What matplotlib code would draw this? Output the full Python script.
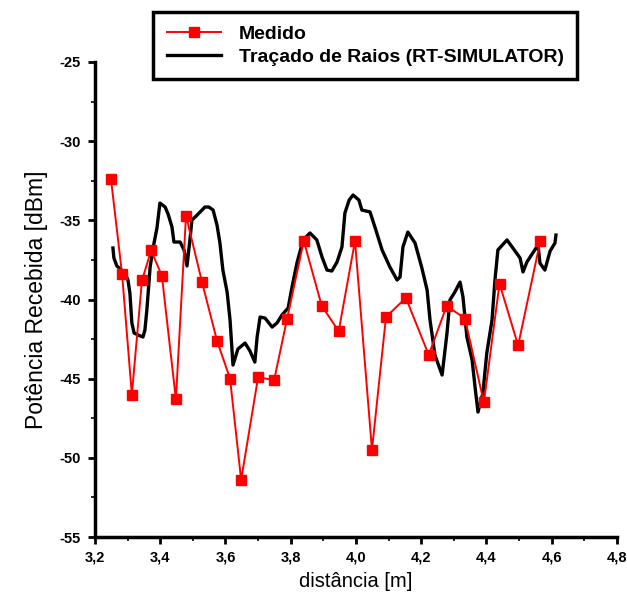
import matplotlib
matplotlib.use("Agg")
import matplotlib.pyplot as plt
from matplotlib.ticker import MultipleLocator, FuncFormatter

# measured points (red squares)
med_x = [3.249, 3.283, 3.313, 3.344, 3.372, 3.405, 3.448, 3.479, 3.528, 3.574,
         3.614, 3.648, 3.700, 3.749, 3.789, 3.840, 3.895, 3.947, 3.997, 4.049,
         4.092, 4.153, 4.223, 4.278, 4.334, 4.392, 4.440, 4.497, 4.565]
med_y = [-32.4, -38.4, -46.0, -38.8, -36.9, -38.5, -46.3, -34.7, -38.9, -42.6,
         -45.0, -51.4, -44.9, -45.1, -41.2, -36.3, -40.4, -42.0, -36.3, -49.5,
         -41.1, -39.9, -43.5, -40.4, -41.2, -46.5, -39.0, -42.9, -36.3]

# ray tracing simulation (black curve)
rt_x = [3.255, 3.258, 3.267, 3.292, 3.301, 3.307, 3.313, 3.320, 3.332, 3.347,
        3.353, 3.359, 3.369, 3.378, 3.390, 3.399, 3.415, 3.424, 3.436, 3.442,
        3.461, 3.473, 3.482, 3.491, 3.497, 3.510, 3.537, 3.549, 3.562, 3.574,
        3.583, 3.592, 3.605, 3.614, 3.623, 3.638, 3.660, 3.675, 3.690, 3.697,
        3.706, 3.721, 3.743, 3.758, 3.773, 3.792, 3.804, 3.819, 3.838, 3.859,
        3.880, 3.896, 3.911, 3.926, 3.942, 3.957, 3.966, 3.979, 3.991, 4.009,
        4.018, 4.043, 4.058, 4.080, 4.104, 4.126, 4.135, 4.144, 4.159, 4.181,
        4.202, 4.218, 4.227, 4.242, 4.264, 4.279, 4.288, 4.303, 4.319, 4.328,
        4.340, 4.356, 4.365, 4.374, 4.389, 4.401, 4.417, 4.426, 4.435, 4.463,
        4.481, 4.503, 4.512, 4.524, 4.542, 4.558, 4.564, 4.579, 4.595, 4.610,
        4.613]
rt_y = [-36.75, -37.38, -37.88, -38.33, -38.77, -39.59, -41.48, -42.12, -42.24, -42.37,
        -41.93, -40.66, -37.95, -36.75, -35.48, -33.91, -34.16, -34.60, -35.42, -36.37,
        -36.37, -36.87, -37.88, -36.24, -34.98, -34.73, -34.16, -34.16, -34.35, -35.30,
        -36.43, -38.14, -39.53, -41.30, -44.14, -43.13, -42.75, -43.25, -43.95, -42.37,
        -41.11, -41.17, -41.74, -41.48, -40.98, -40.54, -39.21, -37.70, -36.24, -35.80,
        -36.24, -37.32, -38.14, -38.20, -37.63, -36.68, -34.54, -33.72, -33.40, -33.72,
        -34.35, -34.47, -35.42, -36.87, -37.95, -38.77, -38.58, -36.68, -35.74, -36.43,
        -38.01, -39.40, -41.30, -43.51, -44.77, -42.12, -40.03, -39.53, -38.90, -39.84,
        -42.37, -43.82, -45.53, -47.11, -45.91, -43.38, -41.30, -38.77, -36.87, -36.24,
        -36.75, -37.38, -38.26, -37.63, -37.06, -36.56, -37.70, -38.14, -36.94, -36.43,
        -35.93]

fig = plt.figure(figsize=(6.27, 5.99), dpi=100)
ax = fig.add_axes([0.1515, 0.1035, 0.8325, 0.793])

l1, = ax.plot(med_x, med_y, color="red", lw=1.4, marker="s", ms=7,
              label="Medido", zorder=3)
l2, = ax.plot(rt_x, rt_y, color="black", lw=2.4,
              label="Traçado de Raios (RT-SIMULATOR)", zorder=2)

ax.set_xlim(3.2, 4.8)
ax.set_ylim(-55, -25)
ax.xaxis.set_major_locator(MultipleLocator(0.2))
ax.xaxis.set_minor_locator(MultipleLocator(0.1))
ax.yaxis.set_major_locator(MultipleLocator(5))
ax.yaxis.set_minor_locator(MultipleLocator(2.5))
ax.xaxis.set_major_formatter(FuncFormatter(lambda v, p: f"{v:.1f}".replace(".", ",")))
ax.yaxis.set_major_formatter(FuncFormatter(lambda v, p: f"{v:.0f}"))

for s in ["top", "right"]:
    ax.spines[s].set_visible(False)
for s in ["left", "bottom"]:
    ax.spines[s].set_linewidth(2.5)

ax.tick_params(which="major", direction="out", length=5, width=2, pad=5)
ax.tick_params(which="minor", direction="out", length=3, width=1.2)
for lab in ax.get_xticklabels() + ax.get_yticklabels():
    lab.set_family(["Liberation Sans Narrow", "Liberation Sans", "DejaVu Sans"])
    lab.set_weight("bold")
    lab.set_size(10.5)

ax.set_xlabel("distância [m]", fontsize=14.5, family="Liberation Sans", labelpad=5)
ax.set_ylabel("Potência Recebida [dBm]", fontsize=16.5, family="Liberation Sans", labelpad=8)

leg = fig.legend(handles=[l1, l2], loc="upper left",
                 bbox_to_anchor=(153 / 627, 1 - 12 / 599),
                 frameon=True, fancybox=False, framealpha=1,
                 prop=dict(family="Liberation Sans", weight="bold", size=14),
                 handlelength=2.8, borderpad=0.7, labelspacing=0.25,
                 handletextpad=0.9, borderaxespad=0)
leg.get_frame().set_edgecolor("black")
leg.get_frame().set_linewidth(2.5)

fig.savefig("out.png", dpi=100)
